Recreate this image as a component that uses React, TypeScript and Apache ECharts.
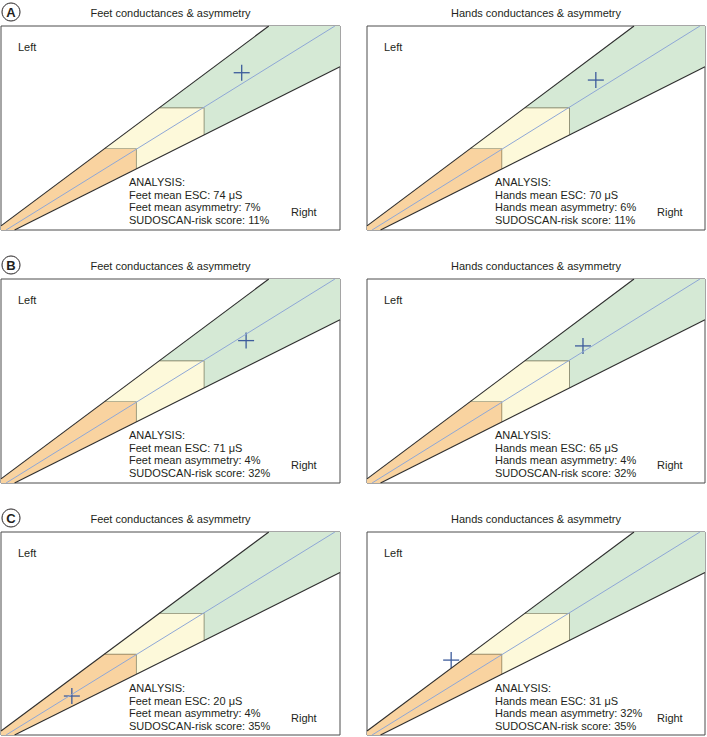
import React, { useEffect, useRef } from 'react';
import * as echarts from 'echarts';

// ---- data ----
const rowLetters = ['A', 'B', 'C'];
const panelTitles = ['Feet conductances & asymmetry', 'Hands conductances & asymmetry'];
const limbNames = ['Feet', 'Hands'];
const feetMeanESC = [74, 71, 20];
const handsMeanESC = [70, 65, 31];
const feetAsymmetry = [7, 4, 4];
const handsAsymmetry = [6, 4, 32];
const riskScore = [11, 32, 35];
// marker position: [right ESC, left ESC]
const feetRightESC = [71.0, 72.3, 20.9];
const feetLeftESC = [77.1, 69.8, 19.2];
const handsRightESC = [67.7, 63.9, 24.9];
const handsLeftESC = [73.5, 67.2, 36.9];
// zones
const zoneLimits = [40, 60];
const zoneColors = ['#f9d3a0', '#fdf9da', '#d5e9d5'];
const upperEdge = [[0, 2], [79, 100]];
const lowerEdge = [[4, 0], [100, 80]];
const identityLine = [[1.5, 0], [98.5, 100]];
const axisMin = 0;
const axisMax = 100;

// ---- layout ----
const gridLefts = [1, 367];
const gridWidths = [339, 338];
const gridTops = [26, 279, 532];
const gridHeights = [204, 204, 203];
const FONT = '"Liberation Sans", Arial, sans-serif';
const TXT = '#231f20';

const upperX = (y: number) =>
  upperEdge[0][0] + ((y - upperEdge[0][1]) * (upperEdge[1][0] - upperEdge[0][0])) / (upperEdge[1][1] - upperEdge[0][1]);
const lowerY = (x: number) =>
  lowerEdge[0][1] + ((x - lowerEdge[0][0]) * (lowerEdge[1][1] - lowerEdge[0][1])) / (lowerEdge[1][0] - lowerEdge[0][0]);

const [L1, L2] = zoneLimits;
const zonePolys = [
  [[axisMin, axisMin], [axisMin, upperEdge[0][1]], [upperX(L1), L1], [L1, L1], [L1, lowerY(L1)], [lowerEdge[0][0], axisMin]],
  [[upperX(L1), L1], [upperX(L2), L2], [L2, L2], [L2, lowerY(L2)], [L1, lowerY(L1)], [L1, L1]],
  [[upperX(L2), L2], [upperEdge[1][0], axisMax], [axisMax, axisMax], [axisMax, lowerEdge[1][1]], [L2, lowerY(L2)], [L2, L2]],
];
const zoneBounds = zoneLimits.map((L) => [[upperX(L), L], [L, L], [L, lowerY(L)]]);

export default function App() {
  const ref = useRef<HTMLDivElement>(null);
  useEffect(() => {
    if (!ref.current) return;
    const chart = echarts.init(ref.current, null, { renderer: 'svg' });
    const grids: any[] = [];
    const xAxes: any[] = [];
    const yAxes: any[] = [];
    const series: any[] = [];
    const graphic: any[] = [];

    rowLetters.forEach((letter, r) => {
      // circled letter
      graphic.push({
        type: 'circle',
        shape: { cx: 11, cy: gridTops[r] - 14, r: 9 },
        style: { fill: 'none', stroke: TXT, lineWidth: 1 },
      });
      graphic.push({
        type: 'text',
        x: 11,
        y: gridTops[r] - 13.5,
        style: { text: letter, fontSize: 13, fontWeight: 'bold', fontFamily: FONT, fill: TXT, align: 'center', verticalAlign: 'middle' },
      });
      [0, 1].forEach((c) => {
        const gi = grids.length;
        const gl = gridLefts[c];
        const gt = gridTops[r];
        grids.push({
          left: gl,
          top: gt,
          width: gridWidths[c],
          height: gridHeights[r],
          show: true,
          borderColor: '#4d4d4d',
          borderWidth: 1,
          backgroundColor: '#ffffff',
        });
        xAxes.push({ type: 'value', gridIndex: gi, min: axisMin, max: axisMax, show: false });
        yAxes.push({ type: 'value', gridIndex: gi, min: axisMin, max: axisMax, show: false });

        series.push({
          type: 'custom',
          xAxisIndex: gi,
          yAxisIndex: gi,
          silent: true,
          data: zoneColors.map((_, i) => [i, 0]),
          renderItem: (params: any, api: any) => {
            const idx = api.value(0);
            const pts = zonePolys[idx].map((p) => api.coord(p));
            const children: any[] = [
              { type: 'polygon', shape: { points: pts }, style: { fill: zoneColors[idx], stroke: 'none' } },
            ];
            if (idx < zoneBounds.length) {
              children.push({
                type: 'polyline',
                shape: { points: zoneBounds[idx].map((p) => api.coord(p)) },
                style: { fill: 'none', stroke: '#6e6a4c', lineWidth: 1.3 },
              });
            }
            return { type: 'group', children };
          },
        });
        [upperEdge, lowerEdge].forEach((edge) => {
          series.push({
            type: 'line',
            xAxisIndex: gi,
            yAxisIndex: gi,
            data: edge,
            symbol: 'none',
            silent: true,
            lineStyle: { color: '#2e2e2e', width: 1.1 },
          });
        });
        series.push({
          type: 'line',
          xAxisIndex: gi,
          yAxisIndex: gi,
          data: identityLine,
          symbol: 'none',
          silent: true,
          lineStyle: { color: '#8ea7d6', width: 1 },
        });
        const rx = c === 0 ? feetRightESC[r] : handsRightESC[r];
        const ly = c === 0 ? feetLeftESC[r] : handsLeftESC[r];
        series.push({
          type: 'custom',
          xAxisIndex: gi,
          yAxisIndex: gi,
          silent: true,
          data: [[rx, ly]],
          renderItem: (params: any, api: any) => {
            const p = api.coord([api.value(0), api.value(1)]);
            const s = 8;
            const st = { stroke: '#3d5c9c', lineWidth: 1.3 };
            return {
              type: 'group',
              children: [
                { type: 'line', shape: { x1: p[0] - s, y1: p[1], x2: p[0] + s, y2: p[1] }, style: st },
                { type: 'line', shape: { x1: p[0], y1: p[1] - s, x2: p[0], y2: p[1] + s }, style: st },
              ],
            };
          },
        });

        // texts
        graphic.push({
          type: 'text',
          x: gl + gridWidths[c] / 2,
          y: gt - 13,
          style: { text: panelTitles[c], fontSize: 11, fontFamily: FONT, fill: TXT, align: 'center', verticalAlign: 'middle' },
        });
        graphic.push({
          type: 'text',
          x: gl + 17,
          y: gt + 21,
          style: { text: 'Left', fontSize: 11, fontFamily: FONT, fill: TXT, align: 'left', verticalAlign: 'middle' },
        });
        graphic.push({
          type: 'text',
          x: gl + 290,
          y: gt + 186,
          style: { text: 'Right', fontSize: 11, fontFamily: FONT, fill: TXT, align: 'left', verticalAlign: 'middle' },
        });
        const mean = c === 0 ? feetMeanESC[r] : handsMeanESC[r];
        const asym = c === 0 ? feetAsymmetry[r] : handsAsymmetry[r];
        const lines = [
          'ANALYSIS:',
          `${limbNames[c]} mean ESC: ${mean} \u03bcS`,
          `${limbNames[c]} mean asymmetry: ${asym}%`,
          `SUDOSCAN-risk score: ${riskScore[r]}%`,
        ];
        const offs = [156, 168.5, 181, 193.5];
        lines.forEach((t, i) => {
          graphic.push({
            type: 'text',
            x: gl + 128,
            y: gt + offs[i],
            style: { text: t, fontSize: 11, fontFamily: FONT, fill: TXT, align: 'left', verticalAlign: 'middle' },
          });
        });
      });
    });

    chart.setOption({
      animation: false,
      backgroundColor: '#ffffff',
      grid: grids,
      xAxis: xAxes,
      yAxis: yAxes,
      series,
      graphic,
    });
    return () => chart.dispose();
  }, []);
  return <div ref={ref} style={{ position: 'fixed', left: 0, top: 0, width: 707, height: 737 }} />;
}
